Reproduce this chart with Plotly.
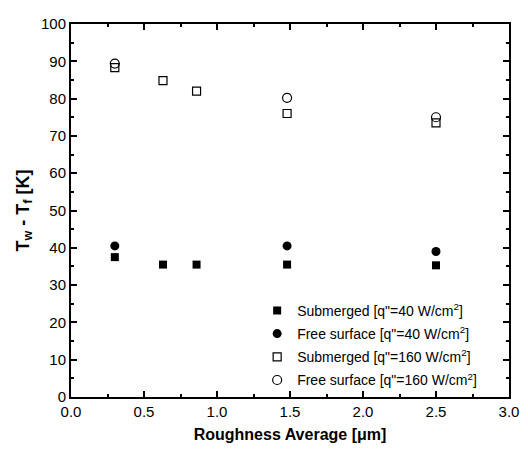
import plotly.graph_objects as go

x_all = [0.30, 0.63, 0.86, 1.48, 2.50]
sub_40 = [37.5, 35.5, 35.5, 35.5, 35.3]
x_free = [0.30, 1.48, 2.50]
free_40 = [40.5, 40.5, 39.0]
sub_160 = [88.3, 84.8, 82.0, 76.0, 73.5]
free_160 = [89.4, 80.2, 75.0]

names = [
    'Submerged [q"=40 W/cm<sup>2</sup>]',
    'Free surface [q"=40 W/cm<sup>2</sup>]',
    'Submerged [q"=160 W/cm<sup>2</sup>]',
    'Free surface [q"=160 W/cm<sup>2</sup>]',
]

fig = go.Figure()
fig.add_trace(go.Scatter(x=x_all, y=sub_40, mode="markers", name=names[0], legendgroup="a",
                         marker=dict(symbol="square", size=8, color="black")))
fig.add_trace(go.Scatter(x=x_free, y=free_40, mode="markers", name=names[1], legendgroup="b",
                         marker=dict(symbol="circle", size=9, color="black")))
fig.add_trace(go.Scatter(x=x_all, y=sub_160, mode="markers", name=names[2], legendgroup="c",
                         marker=dict(symbol="square-open", size=8, color="black",
                                     line=dict(width=1.2))))
fig.add_trace(go.Scatter(x=x_free, y=free_160, mode="markers", name=names[3], legendgroup="d",
                         marker=dict(symbol="circle-open", size=9, color="black",
                                     line=dict(width=1.2))))

axis_common = dict(showline=True, linecolor="black", linewidth=2, mirror="ticks",
                   ticks="inside", ticklen=6, tickwidth=1.5, tickcolor="black",
                   showgrid=False, zeroline=False, ticklabeloverflow="allow",
                   tickfont=dict(family="Liberation Sans, Arial", size=15, color="black"))

fig.update_layout(
    width=520, height=443,
    margin=dict(l=63, r=19, t=7, b=54),
    plot_bgcolor="white", paper_bgcolor="white",
    font=dict(family="Liberation Sans, Arial", color="black"),
    xaxis=dict(range=[0, 3.0], dtick=0.5, tickformat=".1f",
               minor=dict(ticks="inside", ticklen=3, tickcolor="black", dtick=0.25),
               title=dict(text="<b>Roughness Average [μm]</b>",
                          font=dict(size=16), standoff=10),
               **axis_common),
    yaxis=dict(range=[0, 100], dtick=10,
               minor=dict(ticks="inside", ticklen=3, tickcolor="black", dtick=5),
               title=dict(text="<b>T<sub>w</sub> - T<sub>f</sub> [K]</b>",
                          font=dict(size=18), standoff=7),
               **axis_common),
    legend=dict(x=0.425, y=0.274, xanchor="left", yanchor="top",
                bgcolor="rgba(0,0,0,0)", tracegroupgap=2,
                font=dict(family="Liberation Sans, Arial", size=14, color="black")),
    showlegend=True,
)

fig.write_html("out.html")
